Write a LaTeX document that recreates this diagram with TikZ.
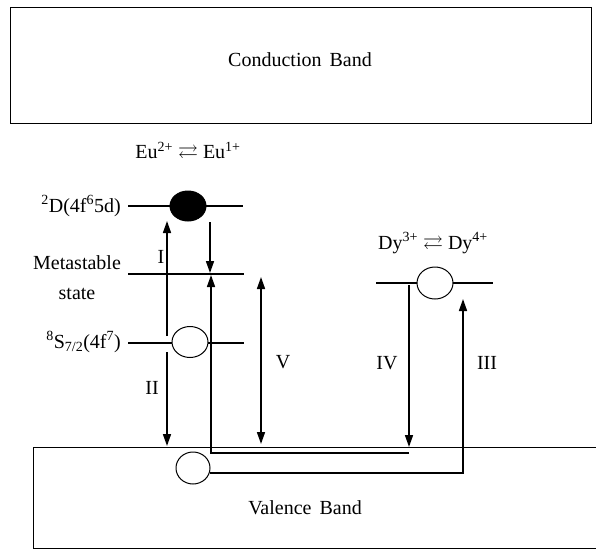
\documentclass[tikz,border=0pt]{standalone}
\usepackage{amssymb}
\usepackage{fontspec}
\setmainfont{Liberation Serif}
\usetikzlibrary{arrows.meta,shapes.geometric}
\begin{document}
\begin{tikzpicture}[x=1pt,y=-1pt,
  every node/.style={font=\fontsize{20}{24}\selectfont, inner sep=0pt},
  box/.style={draw, line width=1pt},
  level/.style={line width=1.8pt},
  arr/.style={line width=1.6pt, -{Triangle[length=12pt,width=8pt]}},
  darr/.style={line width=1.6pt, {Triangle[length=12pt,width=8pt]}-{Triangle[length=12pt,width=8pt]}},
  dot/.style={ellipse, draw, line width=1pt, fill=white, minimum width=36pt, minimum height=31pt},
  lbl/.style={}]
\useasboundingbox (0,0) rectangle (596,549);
% conduction band
\node[box, minimum width=581pt, minimum height=116pt] (cb) at (300.5,65) {};
\node (cbt) at (300,60) {Conduction\hspace{0.15em} Band};
% valence band
\coordinate (vbR) at (596,447);
\coordinate (vbL) at (33,447);
\coordinate (vbBL) at (33,548);
\coordinate (vbBR) at (596,548);
\draw[line width=1pt] (vbR) -- (vbL) -- (vbBL) -- (vbBR);
\node (vbt) at (305,508) {Valence\hspace{0.15em} Band};
% Eu levels
\node (eut) at (188,152) {Eu\textsuperscript{2+} $\rightleftarrows$ Eu\textsuperscript{1+}};
\coordinate (dL) at (128,206); \coordinate (dR) at (243,206);
\coordinate (mL) at (128,274); \coordinate (mR) at (244,274);
\coordinate (sL) at (128,343); \coordinate (sR) at (244,343);
\draw[level] (dL) -- (dR);
\draw[level] (mL) -- (mR);
\draw[level] (sL) -- (sR);
\node[dot, fill=black, minimum width=36pt, minimum height=30pt] (eu5d) at (188,206) {};
\node[dot] (eu4f) at (190,342) {};
\node[anchor=east] (dlbl) at (121,206) {\textsuperscript{2}D(4f\textsuperscript{6}5d)};
\node[anchor=east] (slbl) at (121,342) {\textsuperscript{8}S\textsubscript{7/2}(4f\textsuperscript{7})};
\node (meta) at (77,263) {Metastable};
\node (state) at (77,294) {state};
% Dy level
\node (dyt) at (433,243) {Dy\textsuperscript{3+} $\rightleftarrows$ Dy\textsuperscript{4+}};
\coordinate (yL) at (376,283); \coordinate (yR) at (493,283);
\draw[level] (yL) -- (yR);
\node[dot, minimum height=32pt] (dy) at (435,283) {};
% hole
\node[dot, minimum width=34pt, minimum height=32pt] (hole) at (193,468) {};
% arrows
\coordinate (a1s) at (167,336); \coordinate (a1e) at (167,221);
\draw[arr] (a1s) -- (a1e);
\node (l1) at (161,257) {I};
\coordinate (a2s) at (167,352); \coordinate (a2e) at (167,446);
\draw[arr] (a2s) -- (a2e);
\node (l2) at (152,388) {II};
\coordinate (d1s) at (210,222); \coordinate (d1e) at (210,273);
\draw[arr] (d1s) -- (d1e);
\coordinate (p4) at (409,453); \coordinate (pc) at (211,453); \coordinate (pm) at (211,275);
\draw[arr, line width=1.6pt] (p4) -- (pc) -- (pm);
\coordinate (v1) at (261,277); \coordinate (v2) at (261,444);
\draw[darr] (v1) -- (v2);
\node (l5) at (283,362) {V};
\coordinate (a4s) at (409,285); \coordinate (a4e) at (409,447);
\draw[arr] (a4s) -- (a4e);
\node (l4) at (387,363) {IV};
\coordinate (h1) at (210,473); \coordinate (h2) at (463,473); \coordinate (h3) at (463,299);
\draw[arr] (h1) -- (h2) -- (h3);
\node (l3) at (487,363) {III};
\end{tikzpicture}
\end{document}
